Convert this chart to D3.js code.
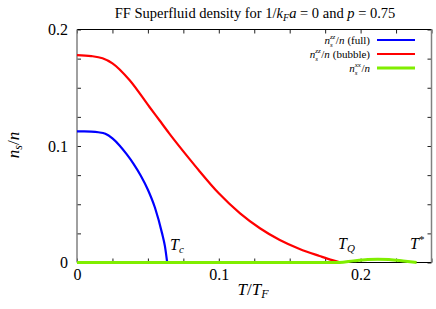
<!DOCTYPE html>
<html>
<head>
<meta charset="utf-8">
<script src="https://cdn.jsdelivr.net/npm/d3@7"></script>
<style>
  body { margin: 0; background: #fff; }
  svg { display: block; }
  text { font-family: "Liberation Serif", "DejaVu Serif", "Times New Roman", serif; fill: #000; }
</style>
</head>
<body>
<div id="chart"></div>
<script>
// values
const fullT = [0, 0.005, 0.01, 0.015, 0.02, 0.025, 0.03, 0.035, 0.04, 0.045, 0.05, 0.055, 0.06, 0.062, 0.0636];
const fullN = [0.1126, 0.1126, 0.1124, 0.1118, 0.1105, 0.1065, 0.1005, 0.093, 0.0845, 0.0745, 0.0625, 0.047, 0.025, 0.014, 0];

const bubbleT = [0, 0.01, 0.018, 0.025, 0.037, 0.051, 0.058, 0.065, 0.079, 0.086, 0.1, 0.115, 0.129, 0.143, 0.157, 0.171, 0.18, 0.186];
const bubbleN = [0.178, 0.1772, 0.1753, 0.171, 0.1567, 0.1337, 0.1223, 0.1109, 0.0894, 0.079, 0.0594, 0.0422, 0.0294, 0.0193, 0.0116, 0.0056, 0.002, 0];

const xxT = [0, 0.1, 0.185, 0.195, 0.205, 0.212, 0.22, 0.23, 0.2395];
const xxN = [0, 0, 0, 0.0014, 0.0025, 0.0028, 0.0025, 0.0013, 0];

const xTicks = [0, 0.025, 0.05, 0.075, 0.1, 0.125, 0.15, 0.175, 0.2, 0.225, 0.25];
const yTicks = [0, 0.025, 0.05, 0.075, 0.1, 0.125, 0.15, 0.175, 0.2];
const xTickLabels = {0: "0", 0.1: "0.1", 0.2: "0.2"};
const yTickLabels = {0: "0", 0.1: "0.1", 0.2: "0.2"};

const SERIF = '"Liberation Serif", "DejaVu Serif", "Times New Roman", serif';

const W = 436, H = 309;
const margin = {top: 29.5, right: 4.5, bottom: 46.5, left: 77};
const iw = W - margin.left - margin.right;
const ih = H - margin.top - margin.bottom;

const svg = d3.select("#chart").append("svg")
    .attr("width", W)
    .attr("height", H)
    .style("font-family", SERIF);

const x = d3.scaleLinear().domain([0, 0.25]).range([0, iw]);
const y = d3.scaleLinear().domain([0, 0.2]).range([ih, 0]);

const g = svg.append("g").attr("transform", `translate(${margin.left},${margin.top})`);

// axes, ticks pointing inward
const fmtX = d => xTickLabels[d] || "";
const fmtY = d => yTickLabels[d] || "";

const axB = g.append("g").attr("transform", `translate(0,${ih})`)
    .call(d3.axisBottom(x).tickValues(xTicks).tickSize(-4).tickPadding(6).tickFormat(fmtX));
const axT = g.append("g")
    .call(d3.axisTop(x).tickValues(xTicks).tickSize(-4).tickFormat(""));
const axL = g.append("g")
    .call(d3.axisLeft(y).tickValues(yTicks).tickSize(-4).tickPadding(9).tickFormat(fmtY));
const axR = g.append("g").attr("transform", `translate(${iw},0)`)
    .call(d3.axisRight(y).tickValues(yTicks).tickSize(-4).tickFormat(""));

[axB, axT, axL, axR].forEach(a => {
  a.attr("font-family", SERIF).attr("font-size", 16);
  a.select(".domain").remove();
  a.selectAll(".tick line").attr("stroke", "#222").attr("stroke-width", 1);
});

// frame
g.append("line").attr("x1", 0).attr("x2", iw).attr("y1", 0).attr("y2", 0).attr("stroke", "#000");
g.append("line").attr("x1", 0).attr("x2", iw).attr("y1", ih).attr("y2", ih).attr("stroke", "#000");
g.append("line").attr("x1", 0).attr("x2", 0).attr("y1", 0).attr("y2", ih).attr("stroke", "#808080").attr("stroke-width", 1.5);
g.append("line").attr("x1", iw).attr("x2", iw).attr("y1", 0).attr("y2", ih).attr("stroke", "#808080").attr("stroke-width", 1.5);

// curves
const line = d3.line().x(d => x(d[0])).y(d => y(d[1])).curve(d3.curveMonotoneX);

const series = [
  {T: fullT, N: fullN, color: "#0000ff", w: 2.2},
  {T: bubbleT, N: bubbleN, color: "#ff0000", w: 2.2},
  {T: xxT, N: xxN, color: "#80ee00", w: 3}
];

series.forEach(s => {
  g.append("path")
    .datum(s.T.map((t, i) => [t, s.N[i]]))
    .attr("fill", "none")
    .attr("stroke", s.color)
    .attr("stroke-width", s.w)
    .attr("d", line);
});

// helper for italic math-like text
function mathText(sel, parts) {
  parts.forEach(p => {
    const t = sel.append("tspan").text(p.t);
    if (p.i) t.style("font-style", "italic");
    if (p.fs) t.style("font-size", p.fs);
    if (p.dy) t.attr("dy", p.dy);
    if (p.dx) t.attr("dx", p.dx);
  });
  return sel;
}

// title
mathText(svg.append("text").attr("x", 255).attr("y", 17.5).attr("text-anchor", "middle").style("font-size", "14.5px"), [
  {t: "FF Superfluid density for 1/"},
  {t: "k", i: true},
  {t: "F", i: true, fs: "10px", dy: 3},
  {t: "a", i: true, dy: -3},
  {t: " = 0 and "},
  {t: "p", i: true},
  {t: " = 0.75"}
]);

// legend: each label built from separate pieces, then right-aligned at x=370
const legendRows = [
  {sup: "zz", tail: "(full)", color: "#0000ff", w: 2.2},
  {sup: "zz", tail: "(bubble)", color: "#ff0000", w: 2.2},
  {sup: "xx", tail: "", color: "#80ee00", w: 3}
];
legendRows.forEach((r, i) => {
  const yy = 40 + i * 14;
  const lg = svg.append("g");
  let cx = 0;
  const piece = (txt, size, italic, dy) => {
    const t = lg.append("text").attr("x", cx).attr("y", dy).text(txt)
      .style("font-size", size + "px").style("font-style", italic ? "italic" : "normal");
    return t.node().getComputedTextLength();
  };
  cx += piece("n", 11, true, 0);
  const ws = piece("s", 7, true, 3.5);
  const wz = piece(r.sup, 7, true, -5);
  cx += Math.max(ws, wz) + 0.5;
  cx += piece("/", 11, false, 0);
  cx += piece("n", 11, true, 0);
  if (r.tail) { cx += 3; cx += piece(r.tail, 11, false, 0); }
  lg.attr("transform", `translate(${370 - cx},${yy + 3.5})`);
  svg.append("line").attr("x1", 377).attr("x2", 415).attr("y1", yy).attr("y2", yy)
    .attr("stroke", r.color).attr("stroke-width", r.w);
});

// annotations
mathText(svg.append("text").attr("x", 170).attr("y", 250).style("font-size", "16px"), [
  {t: "T", i: true}, {t: "c", i: true, fs: "11px", dy: 3}
]);
mathText(svg.append("text").attr("x", 338).attr("y", 249).style("font-size", "16px"), [
  {t: "T", i: true}, {t: "Q", i: true, fs: "11px", dy: 3}
]);
mathText(svg.append("text").attr("x", 410).attr("y", 249).style("font-size", "16px"), [
  {t: "T", i: true}, {t: "*", fs: "11px", dy: -6}
]);

// axis titles
mathText(svg.append("text").attr("x", 253).attr("y", 295).attr("text-anchor", "middle").style("font-size", "17px"), [
  {t: "T", i: true}, {t: "/"}, {t: "T", i: true}, {t: "F", i: true, fs: "12px", dy: 3}
]);
mathText(svg.append("text").attr("transform", "translate(19,145) rotate(-90)").attr("text-anchor", "middle").style("font-size", "17px"), [
  {t: "n", i: true}, {t: "s", i: true, fs: "12px", dy: 3}, {t: "/", dy: -3}, {t: "n", i: true}
]);
</script>
</body>
</html>
